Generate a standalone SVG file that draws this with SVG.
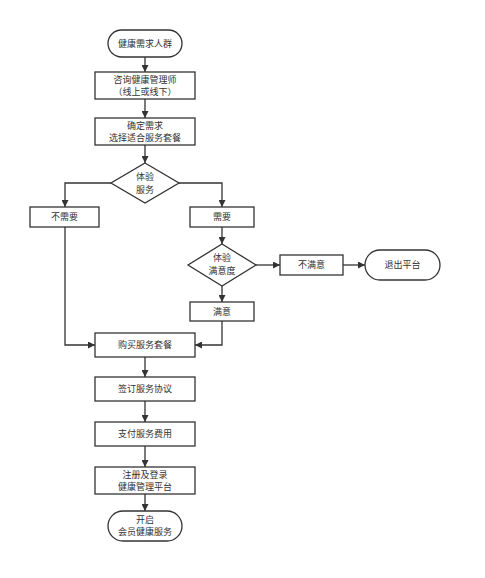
<svg xmlns="http://www.w3.org/2000/svg" width="485" height="578" viewBox="0 0 485 578">
<style>
.n{fill:#fff;stroke:#333;stroke-width:1.3}
.t{font-family:"Noto Sans CJK SC","Noto Sans",sans-serif;font-size:9px;fill:#333;text-anchor:middle}
.c{fill:none;stroke:#333;stroke-width:1.3}
</style>
<defs>
<marker id="a" viewBox="0 0 10 10" refX="10" refY="5" markerWidth="7" markerHeight="7" markerUnits="userSpaceOnUse" orient="auto">
<path d="M0,0 L10,5 L0,10 z" fill="#333"/>
</marker>
</defs>
<rect width="485" height="578" fill="#fff"/>
<g id="connectors">
<path class="c" d="M145,57 V72" marker-end="url(#a)"/>
<path class="c" d="M145,99 V118" marker-end="url(#a)"/>
<path class="c" d="M145,145 V163" marker-end="url(#a)"/>
<path class="c" d="M111,183 H65 V207" marker-end="url(#a)"/>
<path class="c" d="M179,183 H222 V207" marker-end="url(#a)"/>
<path class="c" d="M222,227 V244" marker-end="url(#a)"/>
<path class="c" d="M256,265 H280" marker-end="url(#a)"/>
<path class="c" d="M343,265 H365" marker-end="url(#a)"/>
<path class="c" d="M222,286 V302" marker-end="url(#a)"/>
<path class="c" d="M222,321 V345 H195" marker-end="url(#a)"/>
<path class="c" d="M65,227 V345 H95" marker-end="url(#a)"/>
<path class="c" d="M145,357 V377" marker-end="url(#a)"/>
<path class="c" d="M145,401 V422" marker-end="url(#a)"/>
<path class="c" d="M145,446 V467" marker-end="url(#a)"/>
<path class="c" d="M145,494 V511" marker-end="url(#a)"/>
</g>
<g id="start"><rect class="n" x="108" y="30" width="74" height="27" rx="13.5"/><text class="t" x="145" y="47">健康需求人群</text></g>
<g id="consult"><rect class="n" x="95" y="72" width="100" height="27"/><text class="t" x="145" y="83">咨询健康管理师</text><text class="t" x="145" y="95">（线上或线下）</text></g>
<g id="confirm"><rect class="n" x="95" y="118" width="100" height="27"/><text class="t" x="145" y="129">确定需求</text><text class="t" x="145" y="141">选择适合服务套餐</text></g>
<g id="d1"><polygon class="n" points="145,163 179,183 145,203 111,183"/><text class="t" x="145" y="180">体验</text><text class="t" x="145" y="193">服务</text></g>
<g id="no"><rect class="n" x="30" y="207" width="69" height="20"/><text class="t" x="64.5" y="220">不需要</text></g>
<g id="yes"><rect class="n" x="190" y="207" width="64" height="20"/><text class="t" x="222" y="220">需要</text></g>
<g id="d2"><polygon class="n" points="222,244 256,265 222,286 188,265"/><text class="t" x="222" y="261">体验</text><text class="t" x="222" y="274">满意度</text></g>
<g id="unsat"><rect class="n" x="280" y="255" width="63" height="20"/><text class="t" x="311.5" y="268">不满意</text></g>
<g id="exit"><rect class="n" x="365" y="250" width="75" height="30" rx="15"/><text class="t" x="402.5" y="268">退出平台</text></g>
<g id="sat"><rect class="n" x="190" y="302" width="64" height="19"/><text class="t" x="222" y="315">满意</text></g>
<g id="buy"><rect class="n" x="95" y="333" width="100" height="24"/><text class="t" x="145" y="348">购买服务套餐</text></g>
<g id="sign"><rect class="n" x="95" y="377" width="100" height="24"/><text class="t" x="145" y="392">签订服务协议</text></g>
<g id="pay"><rect class="n" x="95" y="422" width="100" height="24"/><text class="t" x="145" y="437">支付服务费用</text></g>
<g id="reg"><rect class="n" x="95" y="467" width="100" height="27"/><text class="t" x="145" y="478">注册及登录</text><text class="t" x="145" y="490">健康管理平台</text></g>
<g id="end"><rect class="n" x="108" y="511" width="74" height="30" rx="15"/><text class="t" x="145" y="523">开启</text><text class="t" x="145" y="535">会员健康服务</text></g>
</svg>
